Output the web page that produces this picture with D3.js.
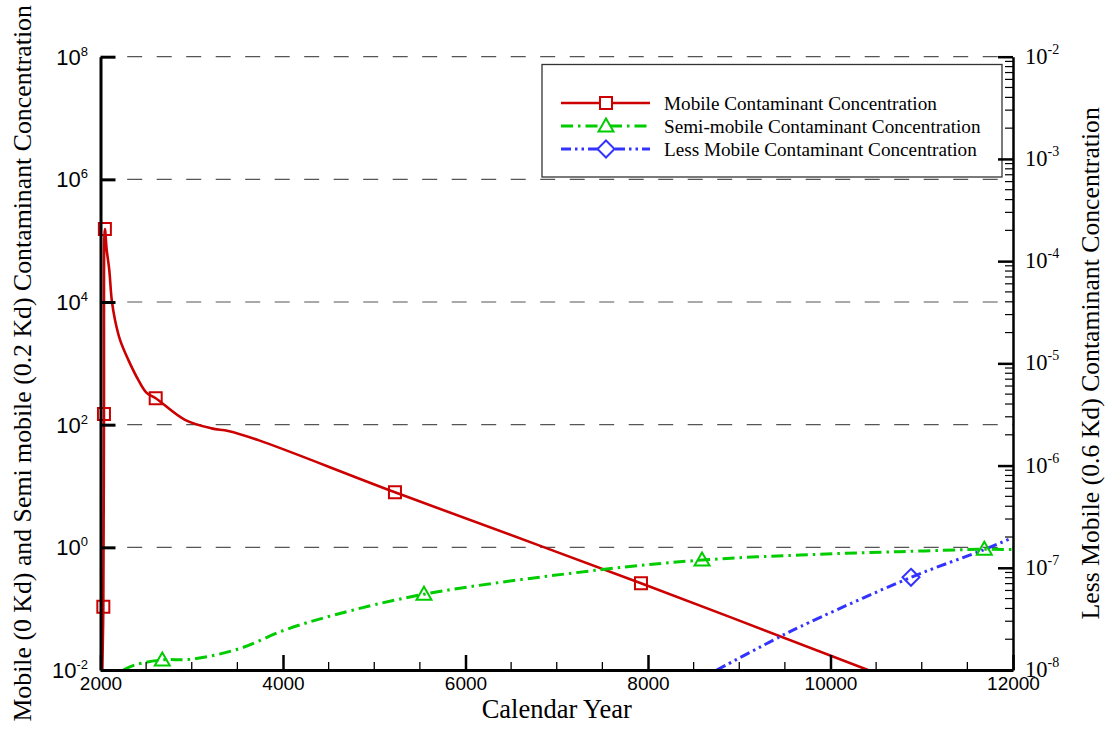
<!DOCTYPE html>
<html>
<head>
<meta charset="utf-8">
<script src="https://cdn.jsdelivr.net/npm/d3@7"></script>
<style>
  html, body { margin: 0; padding: 0; background: #fff; }
  svg { display: block; }
</style>
</head>
<body>
<svg id="chart" width="1111" height="729"></svg>
<script>
// ---- data (calendar year, concentration) ----
const mobileYears   = [2020, 2031, 2038, 2048, 2068, 2096, 2123, 2159, 2214, 2305, 2414, 2506, 2605, 2926, 3218, 3400, 3730, 5227, 7923, 10411];
const mobileValues  = [0.01, 0.107, 150, 1.55e5, 7.1e4, 3.35e4, 1.09e4, 5.1e3, 2.42e3, 1.14e3, 538, 330, 270, 120, 87, 79, 56, 7.9, 0.26, 0.01];
const mobileMarkYears  = [2031, 2038, 2048, 2605, 5227, 7923];
const mobileMarkValues = [0.107, 150, 1.55e5, 270, 7.9, 0.26];

const semiYears   = [2250, 2378, 2677, 3000, 3510, 4022, 4551, 5545, 7474, 8592, 9666, 10761, 11686, 12000];
const semiValues  = [0.0100, 0.0121, 0.0146, 0.015, 0.022, 0.045, 0.078, 0.172, 0.43, 0.62, 0.75, 0.85, 0.93, 0.92];
const semiMarkYears  = [2677, 5545, 8592, 11686];
const semiMarkValues = [0.0146, 0.172, 0.62, 0.93];

const lessYears   = [8753, 9447, 9666, 10882, 11671, 11986];
const lessValues  = [1e-8, 2.12e-8, 2.65e-8, 8.07e-8, 1.49e-7, 1.95e-7];
const lessMarkYears  = [10882];
const lessMarkValues = [8.07e-8];

const xMajorTicks = [2000, 4000, 6000, 8000, 10000, 12000];
const leftTickExps  = [-2, 0, 2, 4, 6, 8];
const rightTickExps = [-8, -7, -6, -5, -4, -3, -2];

const seriesNames = [
  "Mobile Contaminant Concentration",
  "Semi-mobile Contaminant Concentration",
  "Less Mobile Contaminant Concentration"
];

// ---- layout ----
const L = 100.5, R = 1013, T = 56.7, B = 670;
const svg = d3.select("#chart");

const x  = d3.scaleLinear().domain([2000, 12000]).range([L, R]);
const yL = d3.scaleLog().domain([1e-2, 1e8]).range([B, T]);
const yR = d3.scaleLog().domain([1e-8, 1e-2]).range([B, T]);

const RED = "#cc0000", GREEN = "#00cc00", BLUE = "#3333ff";
const serif = "'Liberation Serif','Times New Roman',serif";
const sans  = "'Liberation Sans',Arial,sans-serif";

svg.append("defs").append("clipPath").attr("id", "plotClip")
  .append("rect").attr("x", L).attr("y", T - 10).attr("width", R - L).attr("height", B - T + 10);

// dashed grid at each labelled left-axis decade
const gridG = svg.append("g");
leftTickExps.filter(e => e > -2).forEach(e => {
  gridG.append("line")
    .attr("x1", L + 12).attr("x2", R)
    .attr("y1", yL(Math.pow(10, e))).attr("y2", yL(Math.pow(10, e)))
    .attr("stroke", "#555").attr("stroke-width", 1.2)
    .attr("stroke-dasharray", "15,14.5").attr("stroke-dashoffset", 14.8);
});

// legend box
const lg = svg.append("g");
lg.append("rect").attr("x", 542).attr("y", 64.5).attr("width", 460).attr("height", 112.5)
  .attr("fill", "#fff").attr("stroke", "#333").attr("stroke-width", 1.3);

// ---- series ----
const styles = [
  { color: RED,   dash: null,                width: 2.6, marker: "square"   },
  { color: GREEN, dash: "12,5,2.5,5",        width: 3,   marker: "triangle" },
  { color: BLUE,  dash: "10,4,2.5,4,2.5,4",  width: 3,   marker: "diamond"  }
];

function markerPath(kind) {
  if (kind === "square") return "M-6,-6H6V6H-6Z";
  if (kind === "triangle") return "M0,-7.5L7.5,5.5H-7.5Z";
  return "M0,-8.5L8.5,0L0,8.5L-8.5,0Z";
}

const plotG = svg.append("g").attr("clip-path", "url(#plotClip)");

function drawSeries(years, values, mYears, mValues, yScale, st) {
  const pts = years.map((yr, i) => [x(yr), yScale(values[i])]);
  const line = d3.line().curve(d3.curveCatmullRom.alpha(0.5));
  plotG.append("path").attr("d", line(pts))
    .attr("fill", "none").attr("stroke", st.color).attr("stroke-width", st.width)
    .attr("stroke-linejoin", "round")
    .attr("stroke-dasharray", st.dash);
  mYears.forEach((yr, i) => {
    svg.append("path").attr("d", markerPath(st.marker))
      .attr("transform", `translate(${x(yr)},${yScale(mValues[i])})`)
      .attr("fill", "none").attr("stroke", st.color).attr("stroke-width", 2);
  });
}

drawSeries(mobileYears, mobileValues, mobileMarkYears, mobileMarkValues, yL, styles[0]);
drawSeries(semiYears, semiValues, semiMarkYears, semiMarkValues, yL, styles[1]);
drawSeries(lessYears, lessValues, lessMarkYears, lessMarkValues, yR, styles[2]);

// legend entries
seriesNames.forEach((name, i) => {
  const yy = 103 + i * 23;
  const st = styles[i];
  lg.append("line").attr("x1", 561).attr("x2", 650).attr("y1", yy).attr("y2", yy)
    .attr("stroke", st.color).attr("stroke-width", st.width).attr("stroke-dasharray", st.dash);
  lg.append("path").attr("d", markerPath(st.marker)).attr("transform", `translate(606,${yy})`)
    .attr("fill", "#fff").attr("stroke", st.color).attr("stroke-width", 2);
  lg.append("text").attr("x", 664).attr("y", yy + 6.5).text(name)
    .attr("font-family", serif).attr("font-size", 19.2).attr("fill", "#000");
});

// ---- axes ----
// bottom
const xAxisG = svg.append("g").attr("transform", `translate(0,${B})`)
  .call(d3.axisBottom(x).tickValues(xMajorTicks).tickSize(-15).tickSizeOuter(0).tickPadding(6.5).tickFormat(d3.format("d")));
xAxisG.select(".domain").attr("stroke", "#000").attr("stroke-width", 3);
xAxisG.selectAll(".tick line").attr("stroke", "#000").attr("stroke-width", 2.5);
xAxisG.selectAll(".tick text").attr("font-family", sans).attr("font-size", 19).attr("fill", "#000");
const xMinor = d3.range(2500, 12000, 500).filter(v => v % 2000 !== 0);
svg.append("g").selectAll("line").data(xMinor).join("line")
  .attr("x1", d => x(d)).attr("x2", d => x(d)).attr("y1", B).attr("y2", B - 8)
  .attr("stroke", "#000").attr("stroke-width", 1.3);

// left
const yLAxisG = svg.append("g").attr("transform", `translate(${L},0)`)
  .call(d3.axisLeft(yL).tickValues(leftTickExps.map(e => Math.pow(10, e))).tickSize(-15).tickSizeOuter(0).tickFormat(""));
yLAxisG.select(".domain").attr("stroke", "#000").attr("stroke-width", 3);
yLAxisG.selectAll(".tick line").attr("stroke", "#000").attr("stroke-width", 3);
leftTickExps.forEach(e => {
  const t = svg.append("text").attr("x", 88).attr("y", yL(Math.pow(10, e)) + 8)
    .attr("text-anchor", "end").attr("font-family", sans).attr("font-size", 22).attr("fill", "#000");
  t.append("tspan").text("10");
  t.append("tspan").attr("dy", -9).attr("font-size", 13).text(String(e));
});

// right
const yRAxisG = svg.append("g").attr("transform", `translate(${R},0)`)
  .call(d3.axisRight(yR).tickValues(rightTickExps.map(e => Math.pow(10, e))).tickSize(-15).tickSizeOuter(0).tickFormat(""));
yRAxisG.select(".domain").attr("stroke", "#000").attr("stroke-width", 2.5);
yRAxisG.selectAll(".tick line").attr("stroke", "#000").attr("stroke-width", 2.5);
const rMinor = [];
rightTickExps.slice(0, -1).forEach(e => { for (let k = 2; k <= 9; k++) rMinor.push(k * Math.pow(10, e)); });
svg.append("g").selectAll("line").data(rMinor).join("line")
  .attr("x1", R).attr("x2", R - 8).attr("y1", d => yR(d)).attr("y2", d => yR(d))
  .attr("stroke", "#000").attr("stroke-width", 1.2);
rightTickExps.forEach(e => {
  const t = svg.append("text").attr("x", 1025).attr("y", yR(Math.pow(10, e)) + 7)
    .attr("font-family", serif).attr("font-size", 22.5).attr("fill", "#000");
  t.append("tspan").text("10");
  t.append("tspan").attr("dy", -10).attr("font-size", 14).text(String(e));
});

// titles
svg.append("text").attr("x", (L + R) / 2).attr("y", 718).attr("text-anchor", "middle")
  .attr("font-family", serif).attr("font-size", 26.5).attr("fill", "#000").text("Calendar Year");
svg.append("text").attr("transform", `translate(31,${(T + B) / 2}) rotate(-90)`).attr("text-anchor", "middle")
  .attr("font-family", serif).attr("font-size", 25.8).attr("fill", "#000")
  .text("Mobile (0 Kd) and Semi mobile (0.2 Kd) Contaminant Concentration");
svg.append("text").attr("transform", `translate(1099,${(T + B) / 2}) rotate(-90)`).attr("text-anchor", "middle")
  .attr("font-family", serif).attr("font-size", 25.7).attr("fill", "#000")
  .text("Less Mobile (0.6 Kd) Contaminant Concentration");
</script>
</body>
</html>
